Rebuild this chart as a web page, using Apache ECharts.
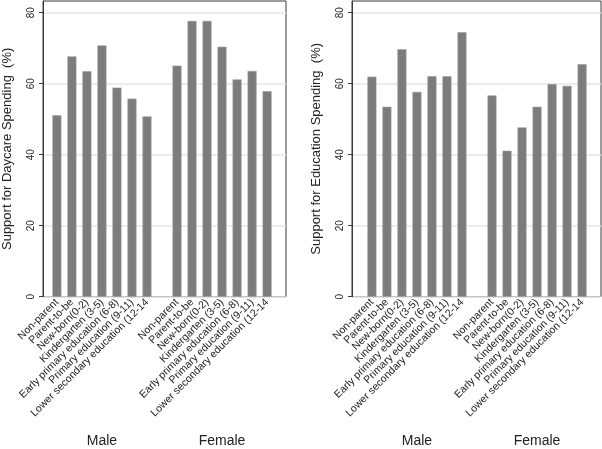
<!DOCTYPE html>
<html><head><meta charset="utf-8">
<script src="https://cdn.jsdelivr.net/npm/echarts@6/dist/echarts.min.js"></script>
<style>html,body{margin:0;padding:0;background:#fff}#c{width:602px;height:449px}</style>
</head><body><div id="c"></div>
<script>
const categories = ['Non-parent','Parent-to-be','New-born(0-2)','Kindergarten (3-5)','Early primary education (6-8)','Primary education (9-11)','Lower secondary education (12-14'];
const groups = ['Male','Female'];
const daycareMale = [51.1, 67.7, 63.5, 70.8, 58.9, 55.8, 50.8];
const daycareFemale = [65.1, 77.7, 77.7, 70.4, 61.2, 63.6, 57.9];
const educationMale = [62.0, 53.5, 69.7, 57.7, 62.1, 62.1, 74.5];
const educationFemale = [56.7, 41.1, 47.7, 53.5, 59.9, 59.4, 65.5];
const yTicks = [0, 20, 40, 60, 80];
const yTitles = ['Support for Daycare Spending  (%)', 'Support for Education Spending  (%)'];

const FONT = "'Liberation Sans', Arial, Helvetica, sans-serif";
const YMAX = 83.3;
const axisCats = [...categories, '', ...categories];
const groupCats = axisCats.map((c, i) => i === 3 ? groups[0] : (i === 11 ? groups[1] : ''));
const panels = [
  {frameLeft: 37, barLeft: 49.4, data: [...daycareMale, '-', ...daycareFemale], title: yTitles[0]},
  {frameLeft: 352, barLeft: 364.4, data: [...educationMale, '-', ...educationFemale], title: yTitles[1]}
];
const grid = [], xAxis = [], yAxis = [], series = [];
panels.forEach((p, k) => {
  const gf = grid.length;
  grid.push({left: p.frameLeft, width: 249, top: 1, height: 295.7, show: true, borderColor: '#3a3a3a', borderWidth: 1, backgroundColor: '#fff'});
  grid.push({left: p.barLeft, width: 225.2, top: 1, height: 295.7});
  // frame axes
  xAxis.push({type: 'value', gridIndex: gf, show: false});
  yAxis.push({type: 'value', gridIndex: gf, min: 0, max: YMAX,
    name: p.title, nameLocation: 'middle', nameGap: 29, nameRotate: 90,
    nameTextStyle: {fontFamily: FONT, fontSize: 13, color: '#222'},
    axisLine: {show: true, lineStyle: {color: '#3a3a3a'}},
    axisTick: {show: true, length: 4, customValues: yTicks, lineStyle: {color: '#3a3a3a'}},
    axisLabel: {rotate: 90, margin: 7, fontFamily: FONT, fontSize: 10, color: '#222', customValues: yTicks},
    splitLine: {show: true, lineStyle: {color: '#e6e6e6', width: 1.5}}
  });
  // bar axes
  const xb = xAxis.length;
  xAxis.push({type: 'category', gridIndex: gf + 1, data: axisCats,
    axisLine: {show: false}, axisTick: {show: false},
    axisLabel: {interval: 0, rotate: 45, margin: 4, fontFamily: FONT, fontSize: 10.5, color: '#222'}});
  xAxis.push({type: 'category', gridIndex: gf + 1, data: groupCats, position: 'bottom', offset: 137,
    axisLine: {show: false}, axisTick: {show: false},
    axisLabel: {interval: 0, fontFamily: FONT, fontSize: 14, color: '#222', margin: 0}});
  const yb = yAxis.length;
  yAxis.push({type: 'value', gridIndex: gf + 1, min: 0, max: YMAX, show: false, splitLine: {show: false}});
  series.push({type: 'bar', xAxisIndex: xb, yAxisIndex: yb, data: p.data, barWidth: 9,
    itemStyle: {color: '#7c7c7e', borderColor: '#9c9c9c', borderWidth: 0.6}, animation: false});
});
const chart = echarts.init(document.getElementById('c'), null, {renderer: 'canvas'});
chart.setOption({animation: false, backgroundColor: '#fff', grid, xAxis, yAxis, series});
</script></body></html>
